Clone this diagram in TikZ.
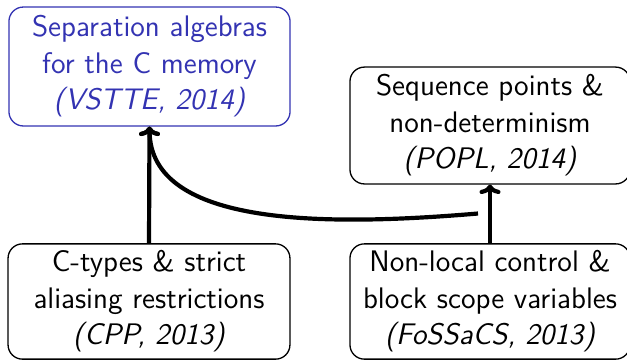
\documentclass[tikz,border=0pt]{standalone}
\usetikzlibrary{arrows.meta}
\definecolor{structblue}{rgb}{0.2,0.2,0.7}
\begin{document}
\begin{tikzpicture}[x=0.3817pt,y=-0.3817pt,
  paper/.style={draw, line width=0.5pt, rounded corners=5.5pt, align=center,
    inner sep=0pt, font=\fontsize{11.35}{13.9}\selectfont\sffamily},
  dep/.style={line width=1.6pt, -{To[length=3.6pt,width=8pt]}}]
  \useasboundingbox (0,0) rectangle (627,360);

  % publications
  \node[paper, draw=structblue, text=structblue, minimum width=107.3pt, minimum height=45.4pt]
    (sep) at (149.5,66.5) {Separation algebras\\ for the C memory\\ \textit{(VSTTE, 2014)}};
  \node[paper, minimum width=106.9pt, minimum height=44.6pt]
    (seq) at (490,125.5) {Sequence points \&\\ non-determinism\\ \textit{(POPL, 2014)}};
  \node[paper, minimum width=107.6pt, minimum height=44.0pt]
    (typ) at (149,301.5) {C-types \& strict\\ aliasing restrictions\\ \textit{(CPP, 2013)}};
  \node[paper, minimum width=106.9pt, minimum height=44.0pt]
    (ctl) at (490,301.5) {Non-local control \&\\ block scope variables\\ \textit{(FoSSaCS, 2013)}};

  % dependencies
  \coordinate (bend) at (478,213.5);
  \draw[dep] (typ.north) -- (sep.south);
  \draw[dep] (ctl.north) -- (seq.south);
  \draw[dep] (bend) .. controls (330,226) and (150,228) .. (sep.south);
\end{tikzpicture}
\end{document}
